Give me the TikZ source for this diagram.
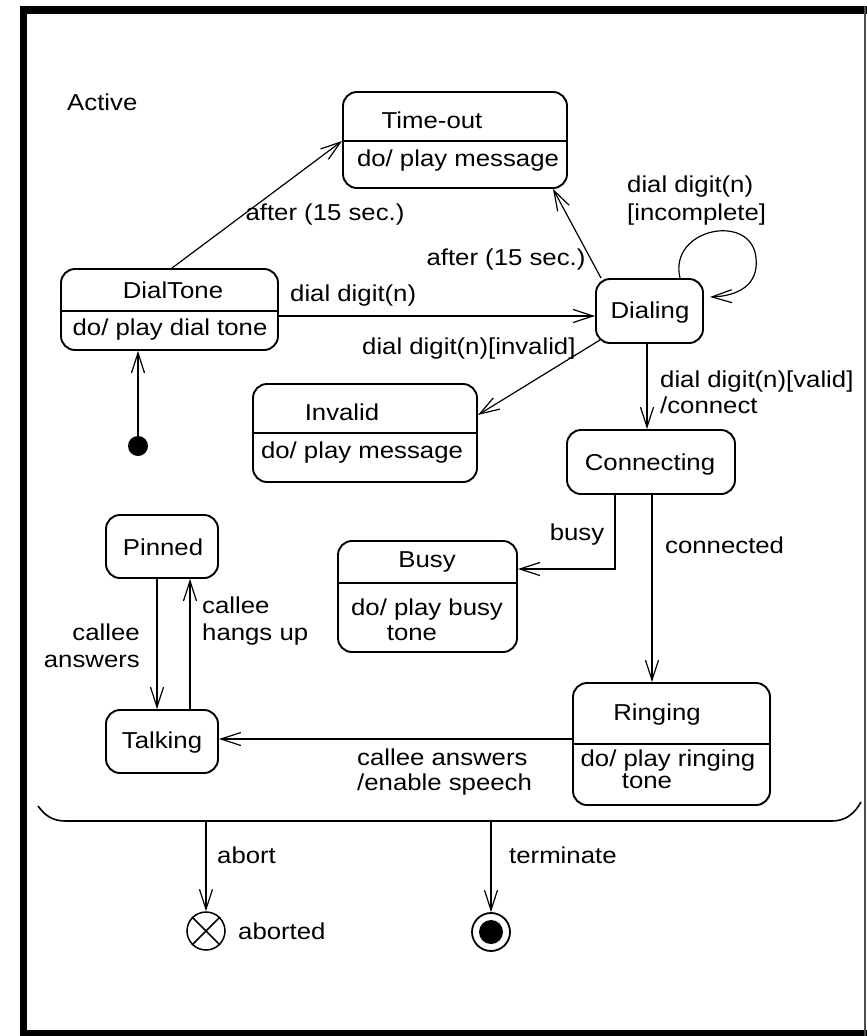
\documentclass[tikz,border=0pt]{standalone}
\usepackage{fontspec}
\setmainfont[FakeStretch=1.12]{Liberation Sans}
\usetikzlibrary{arrows.meta,calc}
\begin{document}
\begin{tikzpicture}[x=1pt,y=-1pt,
  state/.style={draw, rounded corners=14pt, line width=1.9pt, inner sep=0pt},
  divider/.style={line width=1.5pt},
  txt/.style={inner sep=0pt, anchor=base, font=\fontsize{23}{25}\selectfont},
  ltxt/.style={inner sep=0pt, anchor=base west, font=\fontsize{23}{25}\selectfont},
  rtxt/.style={inner sep=0pt, anchor=base east, font=\fontsize{23}{25}\selectfont},
  conn/.style={line width=1.2pt, -{Straight Barb[length=20pt,width=13pt,line width=1.2pt]}},
]
\useasboundingbox (0,0) rectangle (867,1036);
% frame
\fill (20,6) rectangle (867,14);
\fill (20,6) rectangle (27,1036);
\fill (20,1030) rectangle (867,1036);
\draw[line width=2pt, black!70] (865,6) -- (865,1036);

% Active region (bottom edge)
\node[ltxt] (active) at (67,110) {Active};
\draw[line width=1.6pt] (38,806) .. controls (46,817) and (54,821) .. (66,821) -- (832,821) .. controls (846,821) and (855,813) .. (861,802);

% states
\node[state, minimum width=224pt, minimum height=96pt] (timeout) at (455,140) {};
\draw[divider] (timeout.west |- 0,141) -- (timeout.east |- 0,141);
\node[txt] (tTimeout) at (432,128) {Time-out};
\node[txt] (tTimeoutDo) at (458,166) {do/ play message};

\node[state, minimum width=217pt, minimum height=81pt] (dialtone) at (169.5,309.5) {};
\draw[divider] (dialtone.west |- 0,311) -- (dialtone.east |- 0,311);
\node[txt] (tDialTone) at (173,298) {DialTone};
\node[txt] (tDialToneDo) at (170,335) {do/ play dial tone};

\node[state, minimum width=107pt, minimum height=64pt] (dialing) at (649.5,311) {};
\node[txt] (tDialing) at (650,318) {Dialing};

\node[state, minimum width=224pt, minimum height=98pt] (invalid) at (365,433) {};
\draw[divider] (invalid.west |- 0,433) -- (invalid.east |- 0,433);
\node[txt] (tInvalid) at (342,420) {Invalid};
\node[txt] (tInvalidDo) at (362,458) {do/ play message};

\node[state, minimum width=168pt, minimum height=64pt] (connecting) at (651,462) {};
\node[txt] (tConnecting) at (650,470) {Connecting};

\node[state, minimum width=179pt, minimum height=111pt] (busy) at (427.5,596.5) {};
\draw[divider] (busy.west |- 0,583) -- (busy.east |- 0,583);
\node[txt] (tBusy) at (427,567) {Busy};
\node[txt] (tBusyDo) at (427,615) {do/ play busy};
\node[txt] (tBusyDo2) at (412,640) {tone};

\node[state, minimum width=197pt, minimum height=122pt] (ringing) at (671.5,744) {};
\draw[divider] (ringing.west |- 0,744) -- (ringing.east |- 0,744);
\node[txt] (tRinging) at (657,720) {Ringing};
\node[txt] (tRingingDo) at (668,766) {do/ play ringing};
\node[txt] (tRingingDo2) at (647,788) {tone};

\node[state, minimum width=112pt, minimum height=63pt] (pinned) at (162,546.5) {};
\node[txt] (tPinned) at (163,555) {Pinned};

\node[state, minimum width=112pt, minimum height=63pt] (talking) at (162,741.5) {};
\node[txt] (tTalking) at (162,748) {Talking};

% initial
\node[circle, fill, minimum size=20pt, inner sep=0pt] (init) at (138,446) {};
\draw[conn] (init) -- (dialtone.south -| init);

% transitions
\draw[conn] (dialtone.north -| 172,0) -- (timeout.west |- 0,141);
\node[txt] (lAfter1) at (325,220) {after (15 sec.)};

\draw[conn] (dialing.north -| 601,0) -- (timeout.south -| 553,0);
\node[txt] (lAfter2) at (506,265) {after (15 sec.)};

\draw[conn] (dialtone.east |- 0,316) -- (dialing.west |- 0,316);
\node[ltxt] (lDial) at (290,301) {dial digit(n)};

\draw[conn] ([xshift=5pt,yshift=4pt]dialing.south west) -- (invalid.east |- 0,415);
\node[ltxt] (lInvalid) at (362,354) {dial digit(n)[invalid]};

\draw[conn] (dialing.south -| 647,0) -- (connecting.north -| 647,0);
\node[ltxt] (lValidA) at (660,387) {dial digit(n)[valid]};
\node[ltxt] (lValidB) at (660,413) {/connect};

\draw[conn] (dialing.north -| 680,0) .. controls (668,228) and (752,212) .. (756,258) .. controls (759,285) and (738,296) .. ($(dialing.east)+(6,-14)$);
\node[ltxt] (lLoopA) at (627,192) {dial digit(n)};
\node[ltxt] (lLoopB) at (627,220) {[incomplete]};

\draw[conn] (connecting.south -| 615,0) |- (busy.east |- 0,569);
\node[txt] (lBusy) at (577,540) {busy};

\draw[conn] (connecting.south -| 652,0) -- (ringing.north -| 652,0);
\node[ltxt] (lConnected) at (665,553) {connected};

\draw[conn] (ringing.west |- 0,739) -- (talking.east |- 0,739);
\node[ltxt] (lAnswerA) at (357,765) {callee answers};
\node[ltxt] (lAnswerB) at (357,790) {/enable speech};

\draw[conn] (pinned.south -| 157,0) -- (talking.north -| 157,0);
\node[rtxt] (lPinA) at (140,640) {callee};
\node[rtxt] (lPinB) at (140,667) {answers};

\draw[conn] (talking.north -| 190,0) -- (pinned.south -| 190,0);
\node[ltxt] (lHangA) at (202,613) {callee};
\node[ltxt] (lHangB) at (202,640) {hangs up};

% exits
\coordinate (abortStart) at (206,822);
\node[circle, draw, line width=1.5pt, minimum size=38pt, inner sep=0pt] (aborted) at (206,931) {};
\draw[line width=1.5pt] (aborted.north east) -- (aborted.south west);
\draw[line width=1.5pt] (aborted.north west) -- (aborted.south east);
\draw[conn] (abortStart) -- (aborted.north);
\node[ltxt] (lAbort) at (217,863) {abort};
\node[ltxt] (lAborted) at (238,939) {aborted};

\coordinate (termStart) at (491,822);
\node[circle, draw, line width=1.8pt, minimum size=38pt, inner sep=0pt] (final) at (491,932) {};
\fill (final.center) circle (12);
\draw[conn] (termStart) -- (final.north);
\node[ltxt] (lTerminate) at (509,863) {terminate};
\end{tikzpicture}
\end{document}
